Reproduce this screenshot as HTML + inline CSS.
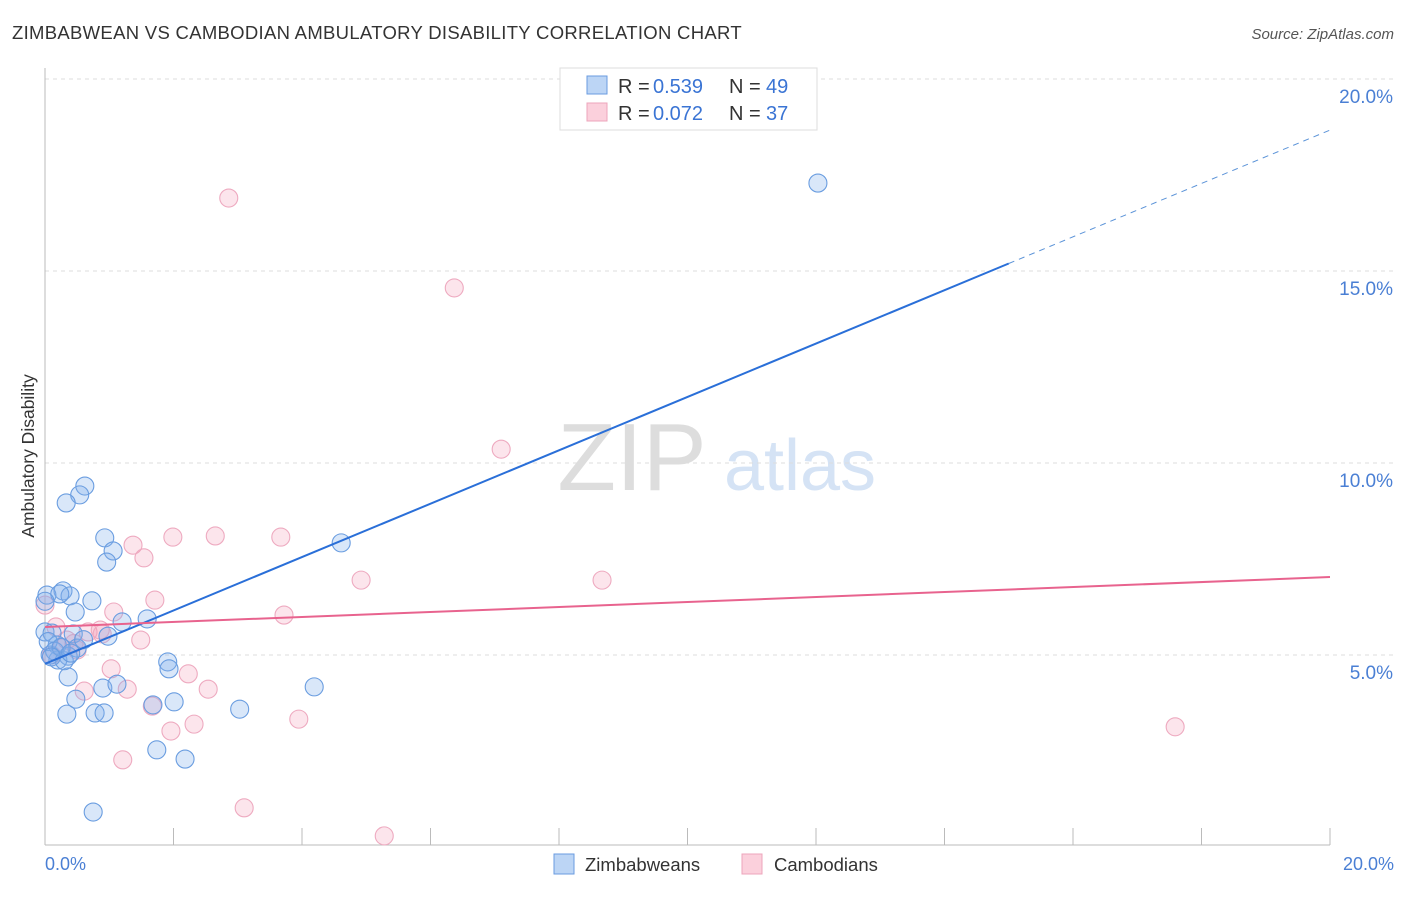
<!DOCTYPE html>
<html><head><meta charset="utf-8"><style>
body{margin:0;background:#fff;font-family:"Liberation Sans",sans-serif}
svg text{font-family:"Liberation Sans",sans-serif}
</style></head><body>
<svg id="chart" width="1406" height="892">
<text x="12" y="39" font-size="18.5" fill="#333" letter-spacing="0.3">ZIMBABWEAN VS CAMBODIAN AMBULATORY DISABILITY CORRELATION CHART</text>
<text x="1394" y="39" font-size="15" fill="#555" font-style="italic" text-anchor="end">Source: ZipAtlas.com</text>
<g>
<text x="632" y="490" font-size="96" font-family="Liberation Serif" fill="#ddd" text-anchor="middle">ZIP</text>
<text x="800" y="490" font-size="72" fill="#d5e3f5" text-anchor="middle">atlas</text>
</g>
<g id="grid"></g>
<line x1="45" y1="68" x2="45" y2="845" stroke="#bbb"/>
<line x1="45" y1="845" x2="1330" y2="845" stroke="#bbb"/>
<g id="xticks"></g>
<g id="pts"></g>
<g id="lines"></g>
<text transform="translate(34,456) rotate(-90)" font-size="17.5" fill="#333" text-anchor="middle">Ambulatory Disability</text>
<text x="45" y="870" font-size="18" fill="#4a7fd4">0.0%</text>
<text x="1394" y="870" font-size="18" fill="#4a7fd4" text-anchor="end">20.0%</text>
<g>
<rect x="560" y="68" width="257" height="62" fill="#fff" stroke="#ddd"/>
<rect x="587" y="76" width="20" height="18" fill="#bcd5f5" stroke="#6a9be0"/>
<rect x="587" y="103" width="20" height="18" fill="#fbd0dc" stroke="#eda5bb"/>
<text x="618" y="93" font-size="20" fill="#333">R =</text>
<text x="653" y="93" font-size="20" fill="#3a74d4">0.539</text>
<text x="729" y="93" font-size="20" fill="#333">N =</text>
<text x="766" y="93" font-size="20" fill="#3a74d4">49</text>
<text x="618" y="120" font-size="20" fill="#333">R =</text>
<text x="653" y="120" font-size="20" fill="#3a74d4">0.072</text>
<text x="729" y="120" font-size="20" fill="#333">N =</text>
<text x="766" y="120" font-size="20" fill="#3a74d4">37</text>
</g>
<g>
<rect x="554" y="854" width="20" height="20" fill="#bcd5f5" stroke="#6a9be0"/>
<text x="585" y="871" font-size="18.5" fill="#333">Zimbabweans</text>
<rect x="742" y="854" width="20" height="20" fill="#fbd0dc" stroke="#eda5bb"/>
<text x="774" y="871" font-size="18.5" fill="#333">Cambodians</text>
</g>
</svg>
<script>
const yTicks=[5,10,15,20];
const yTickLabels=["5.0%","10.0%","15.0%","20.0%"];
const xTicks=[0,2,4,6,8,10,12,14,16,18,20];
const blueX=[0.62,0.54,0.33,0.93,1.06,0.96,0.28,0.03,0.39,0.23,0.73,0.47,1.59,1.20,0.0,0.11,0.44,0.98,0.19,0.50,0.36,0.20,0.08,1.91,1.93,0.36,0.48,0.90,1.12,2.01,1.68,0.34,0.78,0.92,3.03,4.19,4.61,1.74,2.18,0.75,12.03,0.05,0.15,0.30,0.60,0.25,0.0,0.1,0.4];
const blueY=[9.40,9.17,8.96,8.05,7.71,7.42,6.67,6.56,6.54,6.59,6.41,6.12,5.94,5.86,5.60,5.57,5.55,5.49,5.26,5.18,4.97,4.87,5.00,4.82,4.64,4.43,3.85,4.14,4.24,3.78,3.70,3.46,3.49,3.49,3.59,4.17,7.92,2.53,2.29,0.91,17.29,5.35,5.10,4.85,5.40,5.20,6.40,4.95,5.05];
const pinkX=[2.86,6.37,7.10,1.99,2.65,3.67,1.37,1.54,4.92,8.67,1.71,1.07,3.72,1.49,0.67,0.86,0.34,0.26,0.50,0.0,1.03,2.23,0.61,1.28,2.54,1.67,2.32,1.96,3.95,1.21,3.10,5.28,17.59,0.17,0.89,0.1,0.45];
const pinkY=[16.90,14.56,10.36,8.07,8.10,8.07,7.86,7.53,6.95,6.95,6.43,6.12,6.04,5.39,5.60,5.65,5.39,5.18,5.13,6.30,4.64,4.51,4.06,4.11,4.11,3.67,3.20,3.02,3.33,2.27,1.02,0.29,3.13,5.73,5.55,5.0,5.3];
const blueTrend=[4.77,18.67];
const pinkTrend=[5.73,7.03];
const NS="http://www.w3.org/2000/svg";
const sx=v=>45+v/20*1285;
const sy=v=>847-v*38.4;
function mk(t,a,p){const e=document.createElementNS(NS,t);for(const k in a)e.setAttribute(k,a[k]);p.appendChild(e);return e;}
const grid=document.getElementById('grid');
yTicks.forEach((t,i)=>{
 const l=mk('line',{x1:45,x2:1394,y1:sy(t),y2:sy(t),stroke:'#ddd','stroke-dasharray':'4,4'},grid);
 
 
 const tx=mk('text',{x:1393,y:sy(t)+24,'font-size':19,fill:'#4a7fd4','text-anchor':'end'},grid);
 tx.textContent=yTickLabels[i];
 
 
});
const xt=document.getElementById('xticks');
xTicks.forEach(t=>{
 const l=mk('line',{x1:sx(t),x2:sx(t),y1:828,y2:845,stroke:'#bbb'},xt);
 
 
});
const pts=document.getElementById('pts');
pinkX.forEach((x,i)=>{
 const c=mk('circle',{cx:sx(x),cy:sy(pinkY[i]),r:9,fill:'rgba(244,160,188,0.28)',stroke:'#eeaac0','stroke-width':1.1},pts);
 
 
});
blueX.forEach((x,i)=>{
 const c=mk('circle',{cx:sx(x),cy:sy(blueY[i]),r:9,fill:'rgba(130,175,235,0.3)',stroke:'#6a9de0','stroke-width':1.1},pts);
 
 
});
const ln=document.getElementById('lines');
const bAt=x=>blueTrend[0]+(blueTrend[1]-blueTrend[0])*x/20;
const b1=mk('line',{x1:sx(0),y1:sy(blueTrend[0]),x2:sx(15),y2:sy(bAt(15)),stroke:'#2a6fd8','stroke-width':2},ln);


const b2=mk('line',{x1:sx(15),y1:sy(bAt(15)),x2:sx(20),y2:sy(blueTrend[1]),stroke:'#5b93d8','stroke-width':1,'stroke-dasharray':'6,5'},ln);


const p1=mk('line',{x1:sx(0),y1:sy(pinkTrend[0]),x2:sx(20),y2:sy(pinkTrend[1]),stroke:'#e8638e','stroke-width':2},ln);


</script>
</body></html>
